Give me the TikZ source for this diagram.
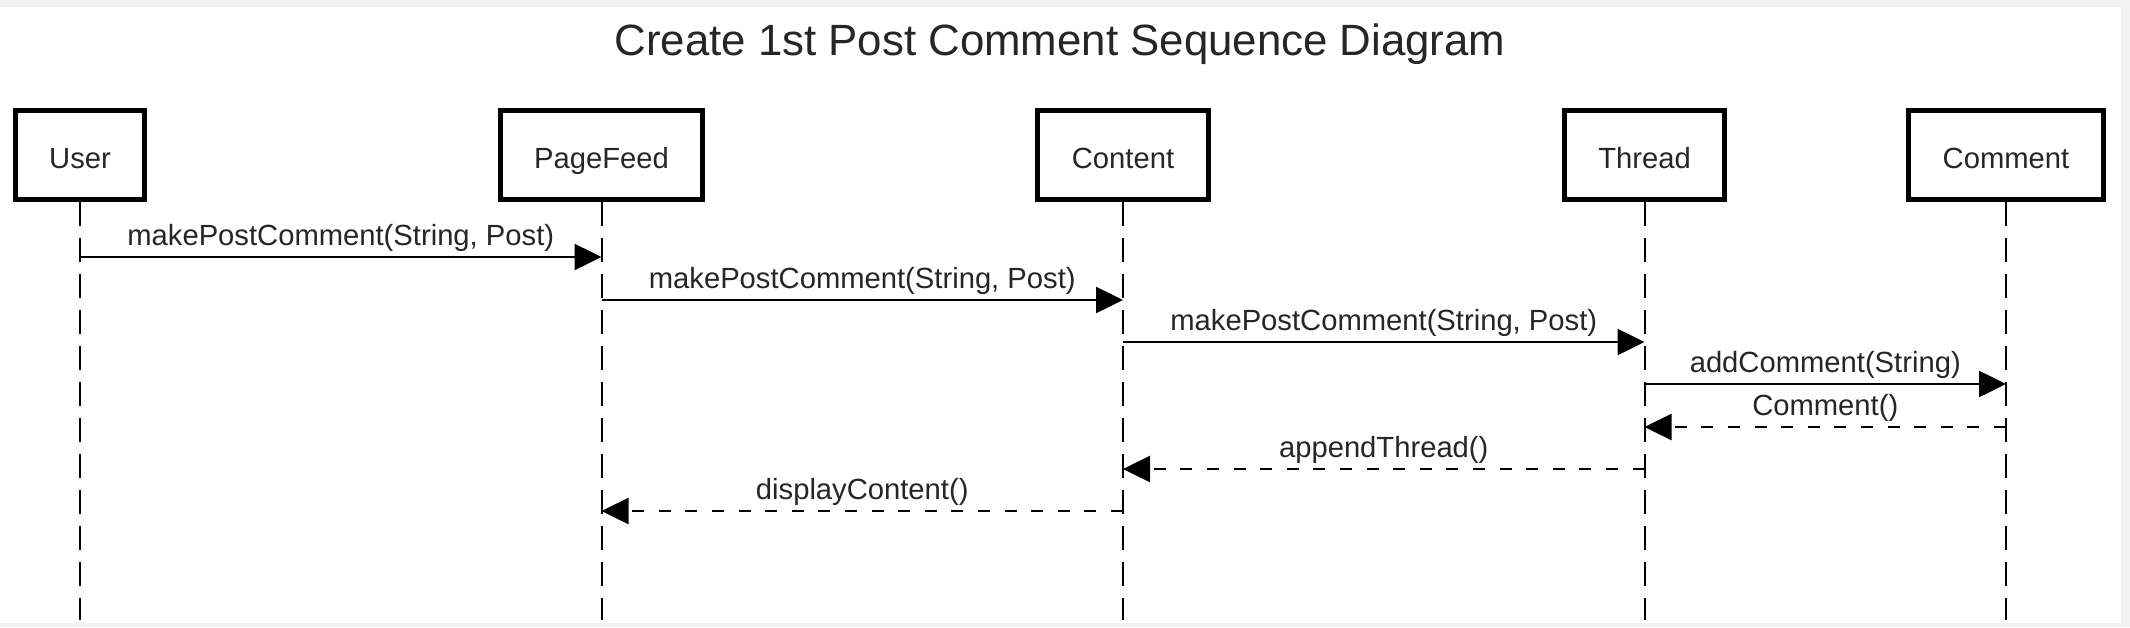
\documentclass[tikz,border=0pt]{standalone}
\usepackage{fontspec}
\setmainfont{Liberation Sans}
\usetikzlibrary{arrows.meta}

\begin{document}
\begin{tikzpicture}[x=0.5pt, y=-0.5pt, node distance=260.75pt, semithick]
  \tikzstyle{object} = [rectangle, draw, line width=2.5pt, fill=white, text=black!85,
    font=\fontsize{14.6}{17}\selectfont, inner xsep=17pt, minimum height=44.5pt,
    text height=15pt, text depth=2pt]
  \tikzstyle{lifeline} = [draw, line width=1pt, dash pattern=on 12pt off 6pt]
  \tikzstyle{line} = [draw, line width=1.25pt, -{Triangle[length=13.5pt, width=13pt]}]
  \tikzstyle{reply} = [line, dash pattern=on 6pt off 7.3pt]
  \tikzstyle{msg} = [above, inner sep=2.2pt, text=black!85, font=\fontsize{14.6}{17}\selectfont]

  % Frame
  \fill [black!5] (0,0) rectangle (2130,627);
  \fill [white] (0,7) rectangle (2121,623);
  \useasboundingbox (0,0) rectangle (2130,627);

  \node [font=\fontsize{21.9}{26}\selectfont, text=black!85, anchor=base] (title) at (1060,55)
    {Create 1st Post Comment Sequence Diagram};

  % Place objects
  \node [object] (user) at (80,155) {User};
  \node [object, right of=user] (pagefeed) {PageFeed};
  \node [object, right of=pagefeed] (content) {Content};
  \node [object, right of=content] (thread) {Thread};
  \node [object, right of=thread, node distance=180.75pt] (comment) {Comment};

  \coordinate (bottom) at (0,620);
  \coordinate (m1) at (0,257);
  \coordinate (m2) at (0,300);
  \coordinate (m3) at (0,342);
  \coordinate (m4) at (0,384);
  \coordinate (m5) at (0,427);
  \coordinate (m6) at (0,469);
  \coordinate (m7) at (0,511);

  % Draw lifelines
  \path [lifeline] (user.south) -- (user |- bottom);
  \path [lifeline] (pagefeed.south) -- (pagefeed |- bottom);
  \path [lifeline] (content.south) -- (content |- bottom);
  \path [lifeline] (thread.south) -- (thread |- bottom);
  \path [lifeline] (comment.south) -- (comment |- bottom);

  % Draw messages
  \path [line] (user |- m1) -- node [msg] {makePostComment(String, Post)} (pagefeed |- m1);
  \path [line] (pagefeed |- m2) -- node [msg] {makePostComment(String, Post)} (content |- m2);
  \path [line] (content |- m3) -- node [msg] {makePostComment(String, Post)} (thread |- m3);
  \path [line] (thread |- m4) -- node [msg] {addComment(String)} (comment |- m4);

  \path [reply] (comment |- m5) -- node [msg] {Comment()} (thread |- m5);
  \path [reply] (thread |- m6) -- node [msg] {appendThread()} (content |- m6);
  \path [reply] (content |- m7) -- node [msg] {displayContent()} (pagefeed |- m7);

\end{tikzpicture}
\end{document}
